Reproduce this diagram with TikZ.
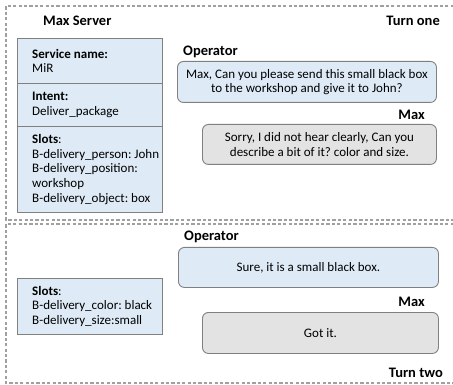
\documentclass[tikz,border=0pt]{standalone}
\usepackage{fontspec}
\setmainfont{Carlito}
\frenchspacing
\definecolor{slotblue}{HTML}{DEEBF7}
\definecolor{replygray}{HTML}{E3E3E3}
\definecolor{edgegray}{HTML}{808080}
\definecolor{framegray}{HTML}{A0A0A0}
\begin{document}
\begin{tikzpicture}[x=1pt,y=-1pt,
  frame/.style={draw=framegray, line width=1.1pt, dash pattern=on 3.2pt off 2.2pt},
  section/.style={draw=edgegray, line width=0.9pt, fill=slotblue, anchor=north west,
    minimum width=145pt, inner sep=0pt},
  sectext/.style={anchor=west, xshift=15pt, inner sep=0pt, align=left,
    font=\fontsize{13}{14.6}\selectfont},
  bubble/.style={draw=edgegray, line width=0.9pt, rounded corners=6pt, anchor=north west,
    inner sep=0pt, align=center, font=\fontsize{13}{14.6}\selectfont},
  opbubble/.style={bubble, fill=slotblue},
  maxbubble/.style={bubble, fill=replygray},
  speaker/.style={font=\fontsize{14.5}{16}\selectfont\bfseries, inner sep=0pt}
]
\useasboundingbox (0,0) rectangle (453,385);

% dashed panel frames (open on the right)
\coordinate (f1a) at (470,6);
\coordinate (f1b) at (6,6);
\coordinate (f1c) at (6,220);
\coordinate (f1d) at (470,220);
\draw[frame] (f1a) -- (f1b) -- (f1c) -- (f1d);
\coordinate (f2a) at (470,224);
\coordinate (f2b) at (6,224);
\coordinate (f2c) at (6,383);
\coordinate (f2d) at (470,383);
\draw[frame] (f2a) -- (f2b) -- (f2c) -- (f2d);

% headings
\node[speaker, anchor=west] (server) at (43,21) {Max Server};
\node[speaker, anchor=east] (turn1) at (440,21) {Turn one};
\node[speaker, anchor=east] (turn2) at (443,373) {Turn two};

% server state, turn one
\node[section, minimum height=45pt] (svc) at (17,38) {};
\node[sectext] (svctext) at (svc.west) {\textbf{Service name:}\\MiR};
\node[section, minimum height=43pt] (intent) at (17,83) {};
\node[sectext] (intenttext) at (intent.west) {\textbf{Intent:}\\Deliver\_package};
\node[section, minimum height=86pt] (slots1) at (17,126) {};
\node[sectext] (slots1text) at (slots1.west)
  {\textbf{Slots}:\\B-delivery\_person: John\\B-delivery\_position:\\workshop\\B-delivery\_object: box};

% server state, turn two
\node[section, minimum height=56pt] (slots2) at (17,278) {};
\node[sectext] (slots2text) at (slots2.west)
  {\textbf{Slots}:\\B-delivery\_color: black\\B-delivery\_size:small};

% dialogue, turn one
\node[speaker, anchor=west] (op1) at (183,52) {Operator};
\node[opbubble, minimum width=259pt, minimum height=41pt] (ask) at (177,61)
  {Max, Can you please send this small black box\\to the workshop and give it to John?};
\node[speaker, anchor=east] (max1) at (425,115) {Max};
\node[maxbubble, minimum width=234pt, minimum height=40pt] (reply1) at (202,124)
  {Sorry, I did not hear clearly, Can you\\describe a bit of it? color and size.};

% dialogue, turn two
\node[speaker, anchor=west] (op2) at (184,237) {Operator};
\node[opbubble, minimum width=260pt, minimum height=40pt] (answer) at (178,247)
  {Sure, it is a small black box.};
\node[speaker, anchor=east] (max2) at (425,302) {Max};
\node[maxbubble, minimum width=236pt, minimum height=41pt] (reply2) at (202,312)
  {Got it.};
\end{tikzpicture}
\end{document}
